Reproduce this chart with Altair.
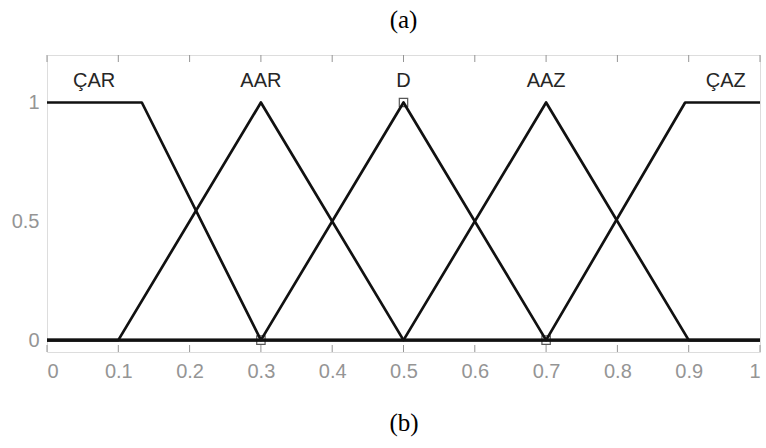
import altair as alt
import pandas as pd

# Membership functions over the normalised universe [0, 1]
mf_names = ["ÇAR", "AAR", "D", "AAZ", "ÇAZ"]
mf_x = [
    [0.0, 0.133, 0.3, 1.0],
    [0.0, 0.1, 0.3, 0.5, 1.0],
    [0.0, 0.3, 0.5, 0.7, 1.0],
    [0.0, 0.5, 0.7, 0.9, 1.0],
    [0.0, 0.7, 0.895, 1.0],
]
mf_y = [
    [1.0, 1.0, 0.0, 0.0],
    [0.0, 0.0, 1.0, 0.0, 0.0],
    [0.0, 0.0, 1.0, 0.0, 0.0],
    [0.0, 0.0, 1.0, 0.0, 0.0],
    [0.0, 0.0, 1.0, 1.0],
]

# Label positions for each membership function
label_x = [0.066, 0.3, 0.5, 0.7, 0.952]
label_y = [1.09, 1.09, 1.09, 1.09, 1.09]

# Highlighted (square) points
sq_x = [0.3, 0.5, 0.7]
sq_y = [0.0, 1.0, 0.0]

x_ticks = [0, 0.1, 0.2, 0.3, 0.4, 0.5, 0.6, 0.7, 0.8, 0.9, 1]
y_ticks = [0, 0.5, 1]

rows = []
for name, xs, ys in zip(mf_names, mf_x, mf_y):
    for i, (xv, yv) in enumerate(zip(xs, ys)):
        rows.append({"mf": name, "x": xv, "y": yv, "i": i})
lines_df = pd.DataFrame(rows)
labels_df = pd.DataFrame({"mf": mf_names, "x": label_x, "y": label_y})
sq_df = pd.DataFrame({"x": sq_x, "y": sq_y})
ticks_df = pd.DataFrame({"t": x_ticks})

W, H = 713, 297
GRAY = "#959595"

xscale = alt.Scale(domain=[0, 1], nice=False, zero=False)
yscale = alt.Scale(domain=[-0.05, 1.2], nice=False, zero=False)

x_axis = alt.Axis(
    values=x_ticks, format="~g", grid=False, domain=False, ticks=False,
    labelFont="Liberation Sans", labelFontSize=20, labelColor=GRAY,
    labelPadding=9, title="(b)", titleFont="Liberation Serif",
    titleFontSize=25, titleFontWeight="normal", titleColor="#000000",
    titlePadding=29,
)
y_axis = alt.Axis(
    values=y_ticks, format="~g", grid=False, domain=False, ticks=False,
    labelFont="Liberation Sans", labelFontSize=20, labelColor=GRAY,
    labelPadding=8, title=None,
)

lines = alt.Chart(lines_df).mark_line(
    color="#111111", strokeWidth=2.7, strokeJoin="round"
).encode(
    x=alt.X("x:Q", scale=xscale, axis=x_axis),
    y=alt.Y("y:Q", scale=yscale, axis=y_axis),
    detail="mf:N",
    order="i:Q",
)

squares = alt.Chart(sq_df).mark_point(
    shape="square", filled=False, color="#111111", size=70, strokeWidth=1.2
).encode(x=alt.X("x:Q", scale=xscale), y=alt.Y("y:Q", scale=yscale))

labels = alt.Chart(labels_df).mark_text(
    font="Liberation Sans", fontSize=20, color="#262626", baseline="middle"
).encode(x=alt.X("x:Q", scale=xscale), y=alt.Y("y:Q", scale=yscale), text="mf:N")

bottom_ticks = alt.Chart(ticks_df).mark_rule(color=GRAY, strokeWidth=1).encode(
    x=alt.X("t:Q", scale=xscale), y=alt.value(H), y2=alt.value(H - 7)
)
top_ticks = alt.Chart(ticks_df).mark_rule(color=GRAY, strokeWidth=1).encode(
    x=alt.X("t:Q", scale=xscale), y=alt.value(0), y2=alt.value(7)
)

chart = alt.layer(bottom_ticks, top_ticks, lines, squares, labels).properties(
    width=W,
    height=H,
    title=alt.TitleParams(
        "(a)", font="Liberation Serif", fontSize=25, fontWeight="normal",
        color="#000000", anchor="middle", offset=22,
    ),
    autosize=alt.AutoSizeParams(type="none"),
    padding={"left": 47, "top": 55, "right": 6, "bottom": 96},
).configure_view(stroke="#9a9a9a", strokeWidth=1).configure(background="white")

chart.save("out.html", embed_options={"renderer": "svg", "actions": False})
